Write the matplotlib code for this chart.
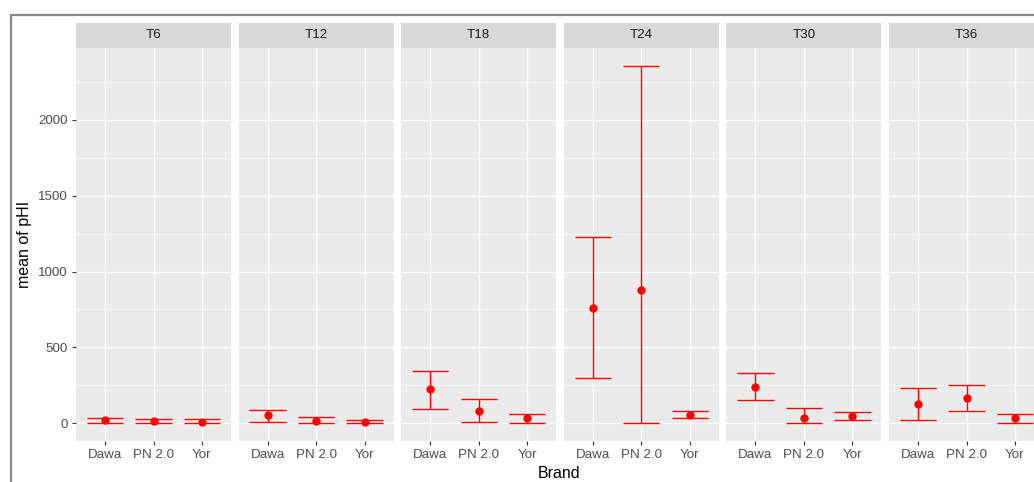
import numpy as np
import matplotlib.pyplot as plt
from matplotlib.patches import Rectangle

plt.rcParams['font.family'] = ['Liberation Sans', 'DejaVu Sans']

# 시점별 / 브랜드별 pHI 평균과 신뢰구간
times = ['T6', 'T12', 'T18', 'T24', 'T30', 'T36']
brands = ['Dawa', 'PN 2.0', 'Yor']

mean_phi = [
    [18, 15, 10],
    [52, 15, 8],
    [222, 81, 31],
    [757, 878, 53],
    [238, 37, 46],
    [123, 167, 31],
]
lower_phi = [
    [2, 0, 0],
    [9, 0, 2],
    [95, 9, 2],
    [295, 2, 33],
    [152, 2, 18],
    [18, 79, 2],
]
upper_phi = [
    [32, 30, 24],
    [88, 40, 18],
    [345, 160, 59],
    [1226, 2357, 81],
    [330, 103, 75],
    [231, 253, 61],
]

W, H = 1034, 482
fig = plt.figure(figsize=(W / 100, H / 100), dpi=100)
fig.patch.set_facecolor('white')

# 바깥 회색 테두리
fig.patches.append(Rectangle((11 / W, -0.1), 1.2, 1 - 15 / H + 0.1,
                             transform=fig.transFigure, fill=False,
                             edgecolor='#888888', linewidth=1.6))

all_lo = np.min(lower_phi)
all_hi = np.max(upper_phi)
pad = 0.05 * (all_hi - all_lo)
ylim = (all_lo - pad, all_hi + pad)

panel_w, step = 155, 162.6
top, bottom, strip_top = 48, 441, 23

for i, t in enumerate(times):
    x0 = 76 + i * step
    ax = fig.add_axes([x0 / W, 1 - bottom / H, panel_w / W, (bottom - top) / H])
    ax.set_facecolor('#EBEBEB')
    for s in ax.spines.values():
        s.set_visible(False)

    x = np.arange(len(brands))
    m = np.array(mean_phi[i])
    lo = np.array(lower_phi[i])
    hi = np.array(upper_phi[i])
    ax.errorbar(x, m, yerr=[m - lo, hi - m], fmt='none', ecolor='red',
                elinewidth=1.0, capsize=0, zorder=3)
    # 캡 (너비 0.75)
    ax.hlines(lo, x - 0.375, x + 0.375, color='red', linewidth=1.0, zorder=3)
    ax.hlines(hi, x - 0.375, x + 0.375, color='red', linewidth=1.0, zorder=3)
    ax.plot(x, m, 'o', color='red', markersize=5, zorder=4)

    ax.set_xlim(-0.6, 2.6)
    ax.set_ylim(*ylim)
    ax.set_xticks(x)
    ax.set_xticklabels(brands, fontsize=9.6, color='#4D4D4D')
    ax.set_yticks([0, 500, 1000, 1500, 2000])
    ax.set_yticks([250, 750, 1250, 1750, 2250], minor=True)
    ax.grid(True, which='major', color='white', linewidth=1.0)
    ax.grid(True, which='minor', axis='y', color='white', linewidth=0.5)
    ax.set_axisbelow(True)
    ax.tick_params(axis='both', which='major', length=3, color='#333333',
                   width=0.8, pad=3)
    ax.tick_params(axis='y', which='minor', length=0)
    if i == 0:
        ax.set_yticklabels(['0', '500', '1000', '1500', '2000'],
                           fontsize=9.6, color='#4D4D4D')
        ax.set_ylabel('mean of pHI', fontsize=11.5, color='black', labelpad=4)
    else:
        ax.tick_params(axis='y', which='major', length=0, labelleft=False)

    # 패싯 스트립
    sax = fig.add_axes([x0 / W, 1 - top / H, panel_w / W, (top - strip_top) / H])
    sax.set_facecolor('#D9D9D9')
    sax.set_xticks([])
    sax.set_yticks([])
    for s in sax.spines.values():
        s.set_visible(False)
    sax.text(0.5, 0.5, t, ha='center', va='center', fontsize=9.6,
             color='#1A1A1A', transform=sax.transAxes)

fig.text(559 / W, 1 - 473 / H, 'Brand', ha='center', va='center',
         fontsize=11.5, color='black')

fig.savefig('out.png', dpi=100)
